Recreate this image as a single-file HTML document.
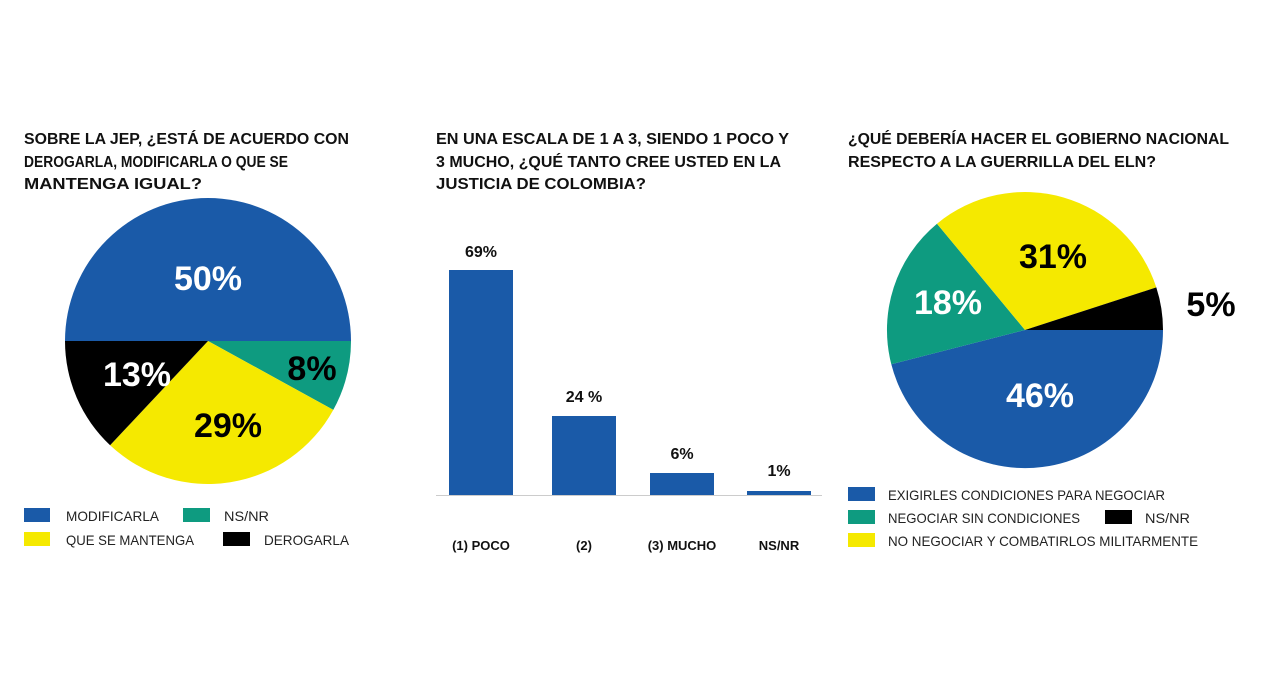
<!DOCTYPE html>
<html><head><meta charset="utf-8"><style>
html,body{margin:0;padding:0;background:#fff;}
svg{display:block;font-family:"Liberation Sans",sans-serif;}
.t{font-weight:bold;font-size:15.5px;fill:#111;}
.l{font-size:14px;fill:#222;}
.p{font-weight:bold;font-size:34px;text-anchor:middle;}
.b{font-weight:bold;font-size:16px;text-anchor:middle;fill:#111;}
.c{font-weight:bold;font-size:13px;text-anchor:middle;fill:#111;}
</style></head><body>
<svg width="1280" height="678" viewBox="0 0 1280 678">
<rect width="1280" height="678" fill="#fff"/>
<!-- titles -->
<text class="t" x="24" y="144" textLength="325" lengthAdjust="spacingAndGlyphs">SOBRE LA JEP, ¿ESTÁ DE ACUERDO CON</text>
<text class="t" x="24" y="167" textLength="264" lengthAdjust="spacingAndGlyphs">DEROGARLA, MODIFICARLA O QUE SE</text>
<text class="t" x="24" y="189" textLength="178" lengthAdjust="spacingAndGlyphs">MANTENGA IGUAL?</text>
<text class="t" x="436" y="144" textLength="353" lengthAdjust="spacingAndGlyphs">EN UNA ESCALA DE 1 A 3, SIENDO 1 POCO Y</text>
<text class="t" x="436" y="167" textLength="345" lengthAdjust="spacingAndGlyphs">3 MUCHO, ¿QUÉ TANTO CREE USTED EN LA</text>
<text class="t" x="436" y="189" textLength="210" lengthAdjust="spacingAndGlyphs">JUSTICIA DE COLOMBIA?</text>
<text class="t" x="848" y="144" textLength="381" lengthAdjust="spacingAndGlyphs">¿QUÉ DEBERÍA HACER EL GOBIERNO NACIONAL</text>
<text class="t" x="848" y="167" textLength="308" lengthAdjust="spacingAndGlyphs">RESPECTO A LA GUERRILLA DEL ELN?</text>

<!-- pie 1 -->
<path d="M208,341 L65,341 A143,143 0 0 1 351,341 Z" fill="#1a5aa8"/>
<path d="M208,341 L351,341 A143,143 0 0 1 333.3,409.9 Z" fill="#0e9b80"/>
<path d="M208,341 L333.3,409.9 A143,143 0 0 1 110.1,445.2 Z" fill="#f5e900"/>
<path d="M208,341 L110.1,445.2 A143,143 0 0 1 65,341 Z" fill="#000"/>
<text class="p" x="208" y="290" fill="#fff">50%</text>
<text class="p" x="137" y="386" fill="#fff">13%</text>
<text class="p" x="312" y="380" fill="#000">8%</text>
<text class="p" x="228" y="437" fill="#000">29%</text>
<rect x="24" y="508" width="26" height="14" fill="#1a5aa8"/>
<text class="l" x="66" y="521" textLength="93" lengthAdjust="spacingAndGlyphs">MODIFICARLA</text>
<rect x="183" y="508" width="27" height="14" fill="#0e9b80"/>
<text class="l" x="224" y="521" textLength="45" lengthAdjust="spacingAndGlyphs">NS/NR</text>
<rect x="24" y="532" width="26" height="14" fill="#f5e900"/>
<text class="l" x="66" y="545" textLength="128" lengthAdjust="spacingAndGlyphs">QUE SE MANTENGA</text>
<rect x="223" y="532" width="27" height="14" fill="#000"/>
<text class="l" x="264" y="545" textLength="85" lengthAdjust="spacingAndGlyphs">DEROGARLA</text>

<!-- bars -->
<line x1="436" y1="495.5" x2="822" y2="495.5" stroke="#ccc" stroke-width="1"/>
<rect x="449" y="270" width="64" height="225" fill="#1a5aa8"/>
<rect x="552" y="416" width="64" height="79" fill="#1a5aa8"/>
<rect x="650" y="473" width="64" height="22" fill="#1a5aa8"/>
<rect x="747" y="491" width="64" height="4" fill="#1a5aa8"/>
<text class="b" x="481" y="257">69%</text>
<text class="b" x="584" y="402">24 %</text>
<text class="b" x="682" y="459">6%</text>
<text class="b" x="779" y="476">1%</text>
<text class="c" x="481" y="550">(1) POCO</text>
<text class="c" x="584" y="550">(2)</text>
<text class="c" x="682" y="550">(3) MUCHO</text>
<text class="c" x="779" y="550">NS/NR</text>

<!-- pie 3 -->
<path d="M1025,330 L1163,330 A138,138 0 0 1 891.3,364.3 Z" fill="#1a5aa8"/>
<path d="M1025,330 L891.3,364.3 A138,138 0 0 1 937,223.7 Z" fill="#0e9b80"/>
<path d="M1025,330 L937,223.7 A138,138 0 0 1 1156.3,287.4 Z" fill="#f5e900"/>
<path d="M1025,330 L1156.3,287.4 A138,138 0 0 1 1163,330 Z" fill="#000"/>
<text class="p" x="1053" y="268" fill="#000">31%</text>
<text class="p" x="948" y="314" fill="#fff">18%</text>
<text class="p" x="1040" y="407" fill="#fff">46%</text>
<text class="p" x="1211" y="316" fill="#000">5%</text>
<rect x="848" y="487" width="27" height="14" fill="#1a5aa8"/>
<text class="l" x="888" y="500" textLength="277" lengthAdjust="spacingAndGlyphs">EXIGIRLES CONDICIONES PARA NEGOCIAR</text>
<rect x="848" y="510" width="27" height="14" fill="#0e9b80"/>
<text class="l" x="888" y="523" textLength="192" lengthAdjust="spacingAndGlyphs">NEGOCIAR SIN CONDICIONES</text>
<rect x="1105" y="510" width="27" height="14" fill="#000"/>
<text class="l" x="1145" y="523" textLength="45" lengthAdjust="spacingAndGlyphs">NS/NR</text>
<rect x="848" y="533" width="27" height="14" fill="#f5e900"/>
<text class="l" x="888" y="546" textLength="310" lengthAdjust="spacingAndGlyphs">NO NEGOCIAR Y COMBATIRLOS MILITARMENTE</text>
</svg>
</body></html>
